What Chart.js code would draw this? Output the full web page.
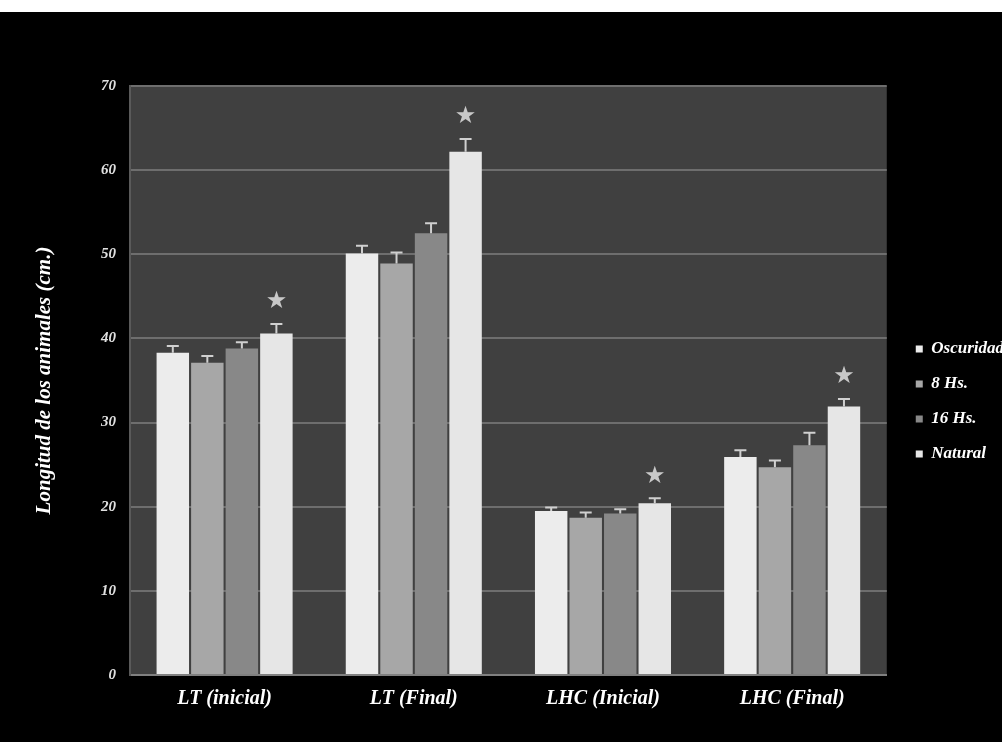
<!DOCTYPE html>
<html>
<head>
<meta charset="utf-8">
<script src="https://cdn.jsdelivr.net/npm/chart.js@4.4.1/dist/chart.umd.min.js"></script>
<style>
  html, body { margin: 0; padding: 0; background: #ffffff; overflow: hidden; width: 1002px; height: 742px; position: relative; }
  #wrap { position: absolute; left: 0; top: 12px; width: 1002px; height: 730px; background: #000000; }
  #bg { position: absolute; left: 0; top: 12px; width: 1002px; height: 730px; background: #000000; }
  canvas { display: block; }
</style>
</head>
<body>
<div id="bg"></div>
<div id="wrap"><canvas id="c"></canvas></div>
<script>
const categories = ['LT (inicial)', 'LT (Final)', 'LHC (Inicial)', 'LHC (Final)'];
const seriesNames = ['Oscuridad', '8 Hs.', '16 Hs.', 'Natural'];
const oscuridad = [38.3, 50.1, 19.5, 25.9];
const horas8 = [37.1, 48.9, 18.7, 24.7];
const horas16 = [38.8, 52.5, 19.2, 27.3];
const natural = [40.6, 62.2, 20.4, 31.9];
const errOscuridad = [0.8, 0.9, 0.4, 0.8];
const errHoras8 = [0.8, 1.3, 0.6, 0.8];
const errHoras16 = [0.75, 1.2, 0.5, 1.5];
const errNatural = [1.1, 1.5, 0.6, 0.9];
const starNatural = [true, true, true, true];
const yTicks = [0, 10, 20, 30, 40, 50, 60, 70];

const serif = "'Liberation Serif', 'DejaVu Serif', serif";
const colors = ['#ececec', '#a7a7a7', '#888888', '#e6e6e6'];
const errors = [errOscuridad, errHoras8, errHoras16, errNatural];

// legend geometry: make the canvas just wide enough that the legend starts where the reference's does
const legendFontSize = 17;
const legendPad = 18;
const legendBox = 7;
const mctx = document.createElement('canvas').getContext('2d');
mctx.font = "italic bold " + legendFontSize + "px 'Liberation Serif'";
const maxText = Math.max(...seriesNames.map(s => mctx.measureText(s).width));
const legendWidth = legendPad + legendBox + legendFontSize / 2 + maxText + 10;
const legendLeft = 915 - legendPad;
document.getElementById('wrap').style.width = Math.ceil(legendLeft + legendWidth) + 'px';

const bgPlugin = {
  id: 'plotBg',
  beforeDraw(chart) {
    const {ctx, chartArea: a} = chart;
    ctx.save();
    ctx.fillStyle = '#404040';
    ctx.fillRect(a.left, a.top, a.right - a.left, a.bottom - a.top);
    ctx.restore();
  }
};

const errorPlugin = {
  id: 'errorBars',
  afterDatasetsDraw(chart) {
    const {ctx} = chart;
    const y = chart.scales.y;
    ctx.save();
    chart.data.datasets.forEach((ds, di) => {
      const meta = chart.getDatasetMeta(di);
      meta.data.forEach((el, i) => {
        const v = ds.data[i];
        const e = errors[di][i];
        const top = y.getPixelForValue(v + e);
        ctx.strokeStyle = '#d0d0d0';
        ctx.lineWidth = 2;
        ctx.beginPath();
        ctx.moveTo(el.x, el.y);
        ctx.lineTo(el.x, top);
        ctx.moveTo(el.x - 6, top);
        ctx.lineTo(el.x + 6, top);
        ctx.stroke();
        if (di === 3 && starNatural[i]) {
          ctx.fillStyle = '#c8c8c8';
          ctx.font = "24px 'DejaVu Sans'";
          ctx.textAlign = 'center';
          ctx.textBaseline = 'middle';
          ctx.fillText('\u2605', el.x, top - 22);
        }
      });
    });
    ctx.restore();
  }
};

const data = {
  labels: categories,
  datasets: [oscuridad, horas8, horas16, natural].map((vals, i) => ({
    label: seriesNames[i],
    data: vals,
    backgroundColor: colors[i],
    borderWidth: 0,
    categoryPercentage: 0.73,
    barPercentage: 0.94
  }))
};

new Chart(document.getElementById('c'), {
  type: 'bar',
  data,
  plugins: [bgPlugin, errorPlugin],
  options: {
    responsive: true,
    maintainAspectRatio: false,
    animation: false,
    layout: { padding: { top: 74, bottom: 25, left: 0, right: 0 } },
    plugins: {
      legend: {
        position: 'right',
        align: 'center',
        labels: {
          color: '#ffffff',
          font: { family: serif, size: legendFontSize, style: 'italic', weight: 'bold' },
          boxWidth: legendBox,
          boxHeight: legendBox,
          padding: legendPad
        }
      },
      tooltip: { enabled: false }
    },
    scales: {
      x: {
        grid: { display: false, drawTicks: false },
        border: { display: true, color: '#808080', width: 2 },
        ticks: {
          color: '#ffffff',
          padding: 12,
          font: { family: serif, size: 20, style: 'italic', weight: 'bold' }
        },
        afterFit(scale) { scale.height = 42; }
      },
      y: {
        min: 0,
        max: 70,
        afterBuildTicks(scale) { scale.ticks = yTicks.map(v => ({ value: v })); },
        grid: { color: '#6e6e6e', lineWidth: 2, drawTicks: false },
        border: { display: true, color: '#5a5a5a', width: 2 },
        ticks: {
          color: '#e0e0e0',
          padding: 14,
          font: { family: serif, size: 15, style: 'italic', weight: 'bold' }
        },
        title: {
          display: true,
          text: 'Longitud de los animales (cm.)',
          color: '#ffffff',
          padding: { top: 32, bottom: 0 },
          font: { family: serif, size: 21, style: 'italic', weight: 'bold' }
        },
        afterFit(scale) { scale.width = 130; }
      },
      gap: {
        type: 'linear',
        position: 'right',
        display: true,
        grid: { display: false, drawTicks: false },
        border: { display: false },
        ticks: { display: false },
        afterFit(scale) { scale.width = legendLeft - 886; }
      }
    }
  }
});
</script>
</body>
</html>
